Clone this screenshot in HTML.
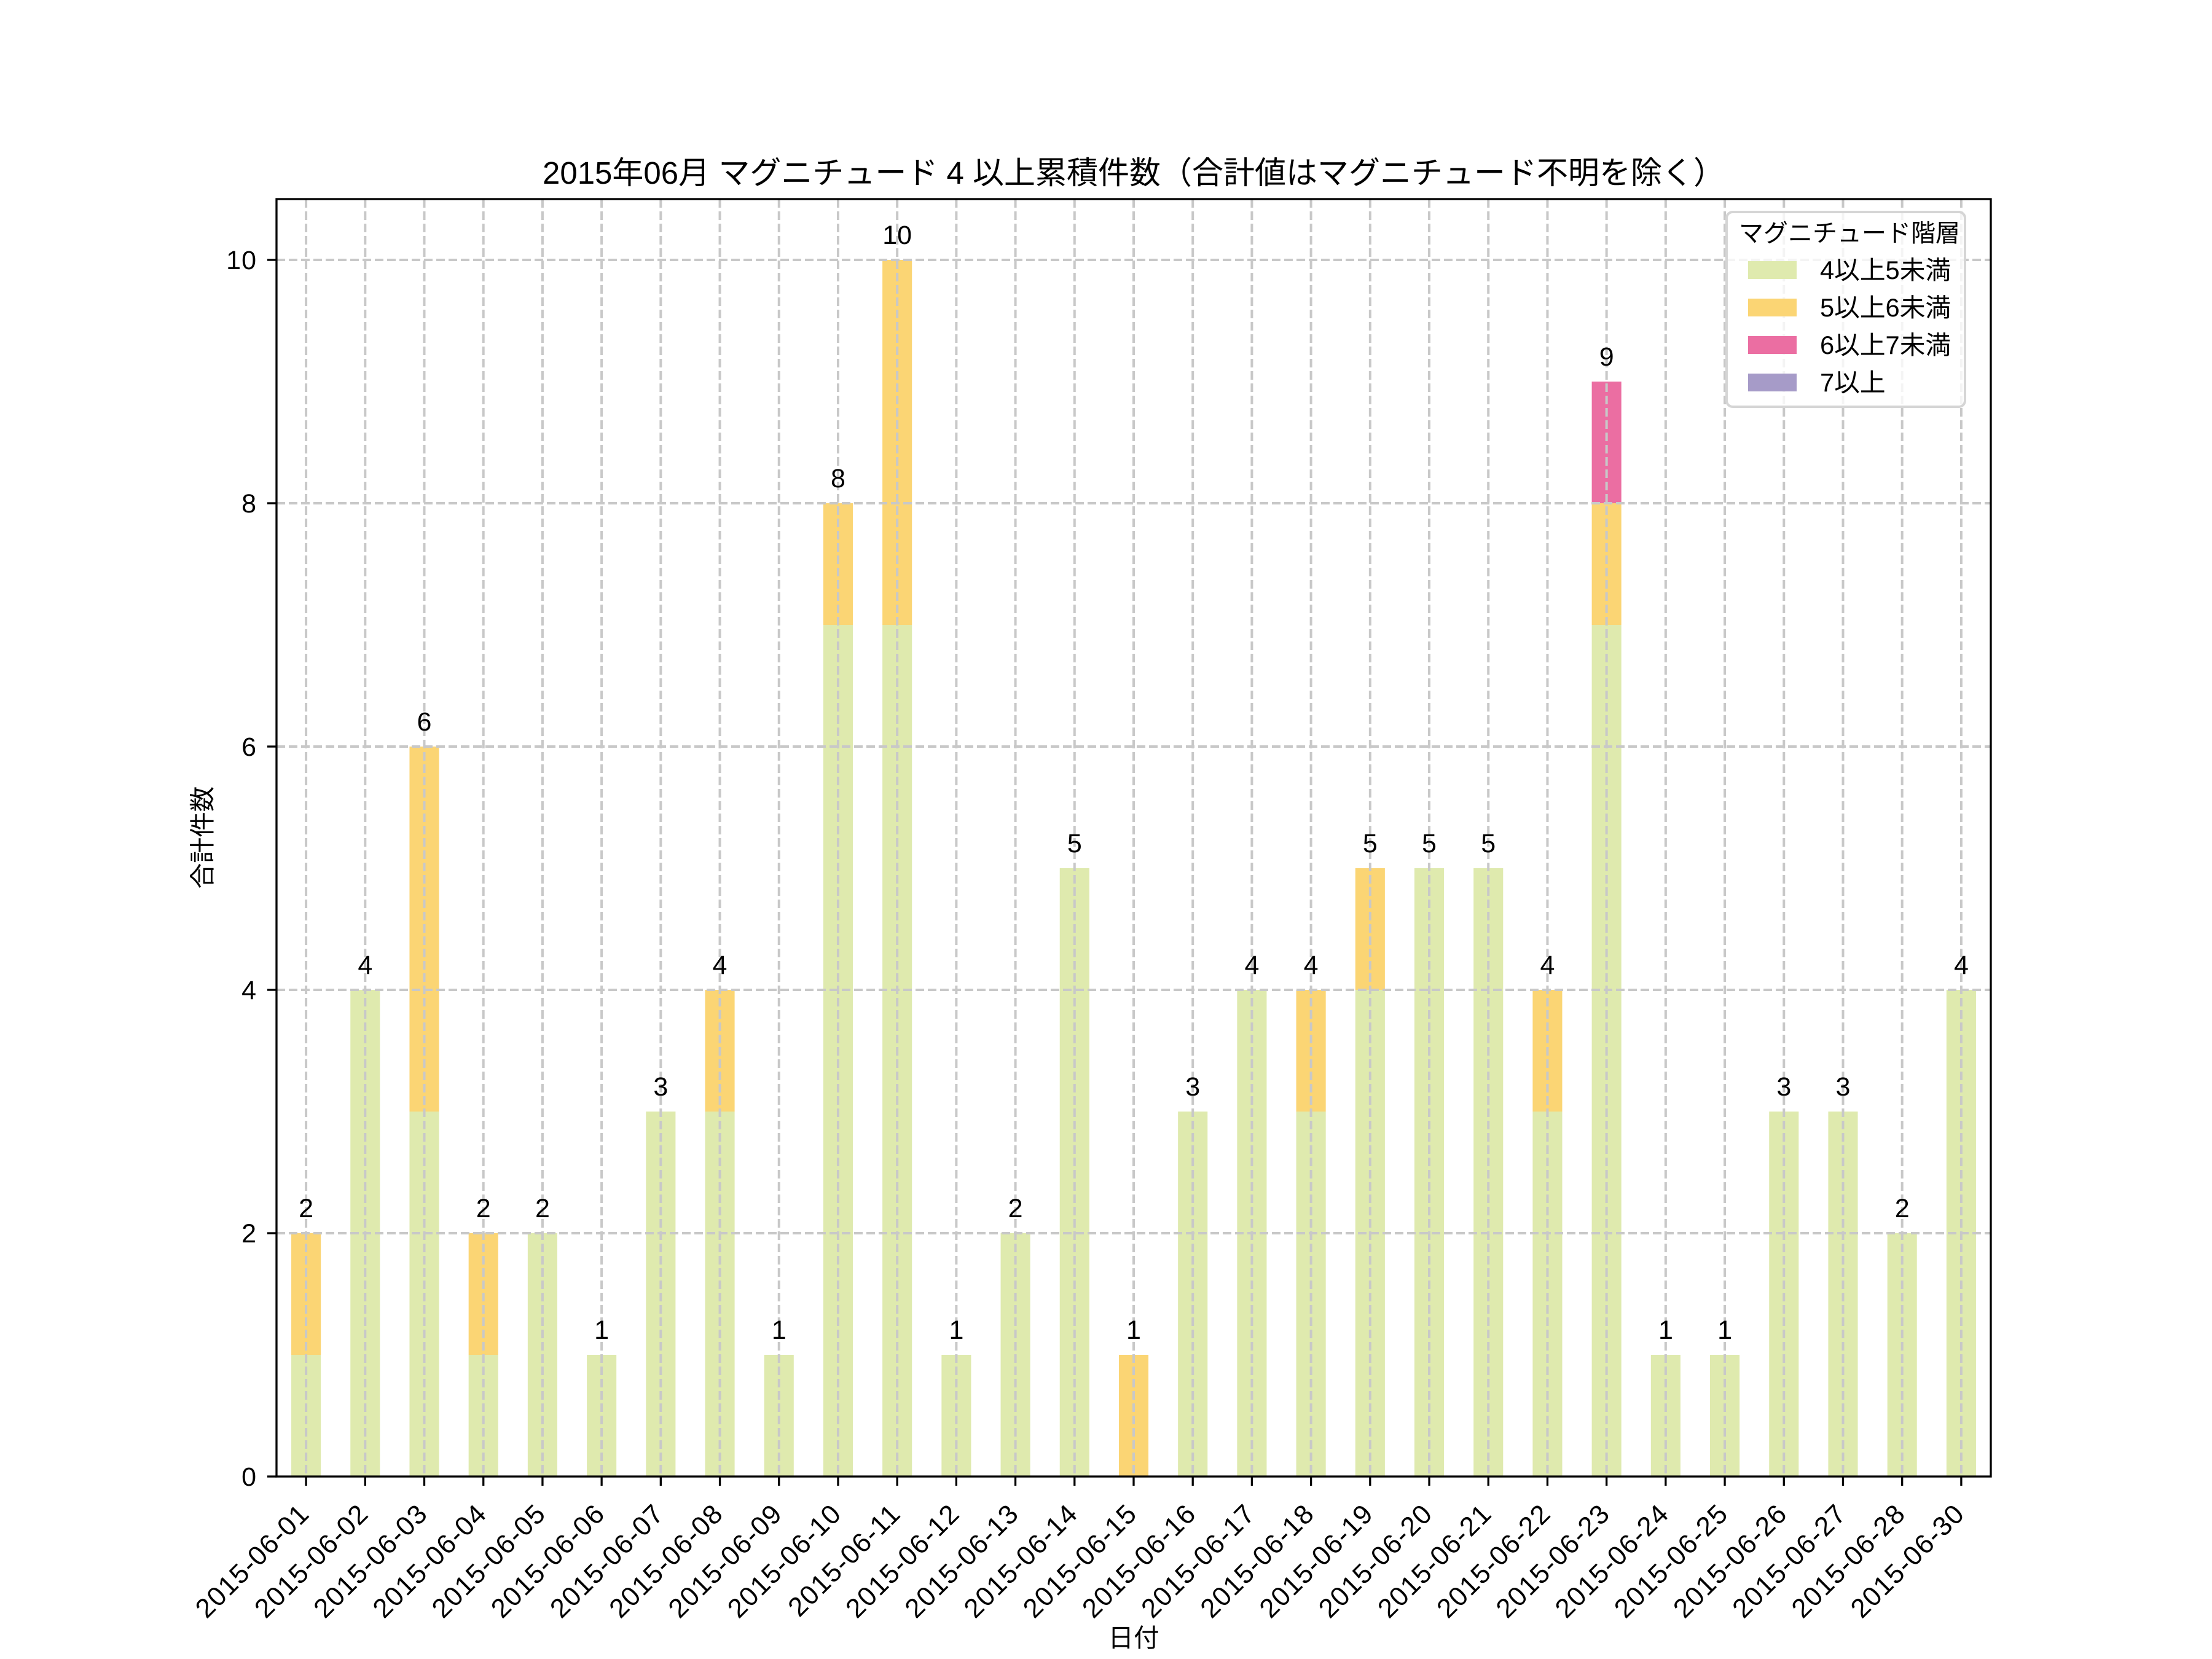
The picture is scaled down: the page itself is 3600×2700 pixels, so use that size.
<!DOCTYPE html>
<html><head><meta charset="utf-8"><style>
html,body{margin:0;padding:0;background:#fff}
svg{display:block}
text{font-family:"Liberation Sans","Noto Sans CJK JP",sans-serif;fill:#000}
</style></head><body>
<svg id="s" width="3600" height="2700" viewBox="0 0 3600 2700" xmlns="http://www.w3.org/2000/svg">
<rect width="3600" height="2700" fill="#fff"/>
<g id="bars"></g>
<g id="grid" stroke="#c8c8c8" stroke-width="4" stroke-dasharray="14,6"></g>
<g id="ticks" stroke="#000" stroke-width="3.3"></g>
<rect x="450" y="324" width="2790" height="2079" fill="none" stroke="#000" stroke-width="3.3"/>
<!-- title -->
<text x="1845" y="299" font-size="51" text-anchor="middle">2015年06月 マグニチュード 4 以上累積件数（合計値はマグニチュード不明を除く）</text>
<!-- axis labels -->
<text x="1845" y="2680" font-size="41.7" text-anchor="middle">日付</text>
<text transform="translate(344,1363) rotate(-90)" font-size="41.7" text-anchor="middle">合計件数</text>
<!-- y tick labels -->
<g font-size="43" text-anchor="end" letter-spacing="1">
<text x="418" y="2418">0</text>
<text x="418" y="2022">2</text>
<text x="418" y="1626">4</text>
<text x="418" y="1230">6</text>
<text x="418" y="834">8</text>
<text x="418" y="438">10</text>
</g>
<!-- value labels -->
<g font-size="43" text-anchor="middle">
<text x="498.1" y="1981">2</text>
<text x="594.3" y="1585">4</text>
<text x="690.5" y="1189">6</text>
<text x="786.7" y="1981">2</text>
<text x="882.9" y="1981">2</text>
<text x="979.1" y="2179">1</text>
<text x="1075.3" y="1783">3</text>
<text x="1171.5" y="1585">4</text>
<text x="1267.8" y="2179">1</text>
<text x="1364.0" y="793">8</text>
<text x="1460.2" y="397">10</text>
<text x="1556.4" y="2179">1</text>
<text x="1652.6" y="1981">2</text>
<text x="1748.8" y="1387">5</text>
<text x="1845.0" y="2179">1</text>
<text x="1941.2" y="1783">3</text>
<text x="2037.4" y="1585">4</text>
<text x="2133.6" y="1585">4</text>
<text x="2229.8" y="1387">5</text>
<text x="2326.0" y="1387">5</text>
<text x="2422.2" y="1387">5</text>
<text x="2518.4" y="1585">4</text>
<text x="2614.7" y="595">9</text>
<text x="2710.9" y="2179">1</text>
<text x="2807.1" y="2179">1</text>
<text x="2903.3" y="1783">3</text>
<text x="2999.5" y="1783">3</text>
<text x="3095.7" y="1981">2</text>
<text x="3191.9" y="1585">4</text>
</g>
<!-- x tick labels -->
<g font-size="44" text-anchor="end" letter-spacing="1.5">
<text transform="translate(506,2466) rotate(-45)">2015-06-01</text>
<text transform="translate(602.3,2466) rotate(-45)">2015-06-02</text>
<text transform="translate(698.5,2466) rotate(-45)">2015-06-03</text>
<text transform="translate(794.7,2466) rotate(-45)">2015-06-04</text>
<text transform="translate(890.9,2466) rotate(-45)">2015-06-05</text>
<text transform="translate(987.1,2466) rotate(-45)">2015-06-06</text>
<text transform="translate(1083.3,2466) rotate(-45)">2015-06-07</text>
<text transform="translate(1179.5,2466) rotate(-45)">2015-06-08</text>
<text transform="translate(1275.8,2466) rotate(-45)">2015-06-09</text>
<text transform="translate(1372.0,2466) rotate(-45)">2015-06-10</text>
<text transform="translate(1468.2,2466) rotate(-45)">2015-06-11</text>
<text transform="translate(1564.4,2466) rotate(-45)">2015-06-12</text>
<text transform="translate(1660.6,2466) rotate(-45)">2015-06-13</text>
<text transform="translate(1756.8,2466) rotate(-45)">2015-06-14</text>
<text transform="translate(1853.0,2466) rotate(-45)">2015-06-15</text>
<text transform="translate(1949.2,2466) rotate(-45)">2015-06-16</text>
<text transform="translate(2045.4,2466) rotate(-45)">2015-06-17</text>
<text transform="translate(2141.6,2466) rotate(-45)">2015-06-18</text>
<text transform="translate(2237.8,2466) rotate(-45)">2015-06-19</text>
<text transform="translate(2334.0,2466) rotate(-45)">2015-06-20</text>
<text transform="translate(2430.2,2466) rotate(-45)">2015-06-21</text>
<text transform="translate(2526.4,2466) rotate(-45)">2015-06-22</text>
<text transform="translate(2622.7,2466) rotate(-45)">2015-06-23</text>
<text transform="translate(2718.9,2466) rotate(-45)">2015-06-24</text>
<text transform="translate(2815.1,2466) rotate(-45)">2015-06-25</text>
<text transform="translate(2911.3,2466) rotate(-45)">2015-06-26</text>
<text transform="translate(3007.5,2466) rotate(-45)">2015-06-27</text>
<text transform="translate(3103.7,2466) rotate(-45)">2015-06-28</text>
<text transform="translate(3199.9,2466) rotate(-45)">2015-06-30</text>
</g>
<!-- legend -->
<rect x="2810" y="345" width="388" height="317" rx="10" fill="#fff" fill-opacity="0.8" stroke="#d5d5d5" stroke-width="4"/>
<text x="3010" y="393" font-size="40" text-anchor="middle">マグニチュード階層</text>
<rect x="2845" y="425" width="79" height="29" fill="#dfeaae"/>
<rect x="2845" y="486" width="79" height="29" fill="#fbd574"/>
<rect x="2845" y="547" width="79" height="29" fill="#eb6ea2"/>
<rect x="2845" y="608" width="79" height="29" fill="#a69bc8"/>
<g font-size="41.7">
<text x="2962" y="454">4以上5未満</text>
<text x="2962" y="515">5以上6未満</text>
<text x="2962" y="576">6以上7未満</text>
<text x="2962" y="637">7以上</text>
</g>
</svg>
<script>
(function(){
var NS="http://www.w3.org/2000/svg";
var g=[1,4,3,1,2,1,3,3,1,7,7,1,2,5,0,3,4,3,4,5,5,3,7,1,1,3,3,2,4];
var o=[1,0,3,1,0,0,0,1,0,1,3,0,0,0,1,0,0,1,1,0,0,1,1,0,0,0,0,0,0];
var p=[0,0,0,0,0,0,0,0,0,0,0,0,0,0,0,0,0,0,0,0,0,0,1,0,0,0,0,0,0];
var cols=["#dfeaae","#fbd574","#eb6ea2"];
var bars=document.getElementById("bars"),grid=document.getElementById("grid"),ticks=document.getElementById("ticks");
function Y(v){return 2403-198*v;}
function el(par,tag,a){var e=document.createElementNS(NS,tag);for(var k in a)e.setAttribute(k,a[k]);par.appendChild(e);return e;}
for(var i=0;i<29;i++){
 var c=498.1+96.207*i, base=0, vals=[g[i],o[i],p[i]];
 for(var j=0;j<3;j++){ if(vals[j]>0){ el(bars,"rect",{x:c-24.05,y:Y(base+vals[j]),width:48.1,height:198*vals[j],fill:cols[j]}); base+=vals[j]; } }
 el(grid,"line",{x1:c,y1:324,x2:c,y2:2403});
 el(ticks,"line",{x1:c,y1:2403,x2:c,y2:2418});
}
for(var v=0;v<=10;v+=2){
 if(v>0) el(grid,"line",{x1:450,y1:Y(v),x2:3240,y2:Y(v)});
 el(ticks,"line",{x1:435,y1:Y(v),x2:450,y2:Y(v)});
}
})();
</script>
</body></html>
